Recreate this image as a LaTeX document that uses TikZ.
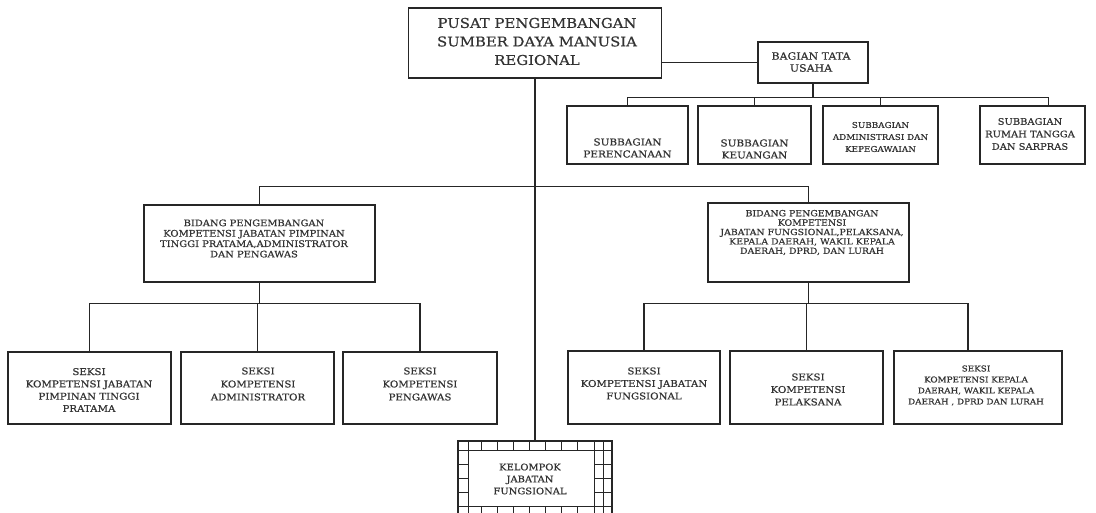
\documentclass[tikz,border=0pt]{standalone}
\usepackage{fontspec}
\setmainfont{DejaVu Serif}[FakeStretch=1.1,FakeBold=0.6]
\newcommand\setfs[2]{\fontsize{#1}{#2}\selectfont}
\begin{document}
\begin{tikzpicture}[x=1pt,y=-1pt,
  box/.style={draw=black!85, line width=1.3pt, inner sep=0pt, rectangle},
  conn/.style={draw=black!85, line width=1.3pt},
  brick/.style={draw=black!85, line width=1pt},
  txt/.style={align=center, inner sep=0pt, text=black!80}]
\useasboundingbox (0,0) rectangle (1096,513);
\clip (0,0) rectangle (1096,513);

% boxes
\node[box, minimum width=253, minimum height=70] (top) at (535,43) {};
\node[box, minimum width=110, minimum height=41] (bag) at (813,62.5) {};
\node[box, minimum width=121, minimum height=58] (sb1) at (627.5,135) {};
\node[box, minimum width=113, minimum height=58] (sb2) at (754.5,135) {};
\node[box, minimum width=115, minimum height=58] (sb3) at (880.5,135) {};
\node[box, minimum width=105, minimum height=58] (sb4) at (1032.5,135) {};
\node[box, minimum width=231, minimum height=77] (bidL) at (259.5,243.5) {};
\node[box, minimum width=201, minimum height=79] (bidR) at (808.5,242.5) {};
\node[box, minimum width=163, minimum height=72] (sL1) at (89.5,388) {};
\node[box, minimum width=153, minimum height=72] (sL2) at (257.5,388) {};
\node[box, minimum width=154, minimum height=72] (sL3) at (420,388) {};
\node[box, minimum width=152, minimum height=73] (sR1) at (644,387.5) {};
\node[box, minimum width=153, minimum height=73] (sR2) at (806.5,387.5) {};
\node[box, minimum width=168, minimum height=73] (sR3) at (978,387.5) {};
\node[box, minimum width=154, minimum height=84] (kel) at (535,483) {};

% brick border of kelompok
\draw[brick] (468,441) -- (468,525) (594,441) -- (594,525) (603,441) -- (603,525);
\draw[brick] (458,450) -- (612,450) (458,506) -- (612,506);
\foreach \x in {481,497,...,577} {
  \draw[brick] (\x,441) -- (\x,450);
  \draw[brick] (\x,506) -- (\x,525);
}
\foreach \y in {464,478,492} {
  \draw[brick] (458,\y) -- (468,\y);
  \draw[brick] (594,\y) -- (612,\y);
}

% texts
\node[txt, font=\setfs{13.5}{18.5}] (ttop) at (537,41.5) {PUSAT PENGEMBANGAN\\SUMBER DAYA MANUSIA\\REGIONAL};
\node[txt, font=\setfs{10}{12}] (tbag) at (811,62) {BAGIAN TATA\\USAHA};
\node[txt, font=\setfs{9.5}{12}] (tsb1) at (627.5,148) {SUBBAGIAN\\PERENCANAAN};
\node[txt, font=\setfs{9.5}{12}] (tsb2) at (754.5,149) {SUBBAGIAN\\KEUANGAN};
\node[txt, font=\setfs{8}{12}] (tsb3) at (880.5,137) {SUBBAGIAN\\ADMINISTRASI DAN\\KEPEGAWAIAN};
\node[txt, font=\setfs{9}{12.5}] (tsb4) at (1030,134) {SUBBAGIAN\\RUMAH TANGGA\\DAN SARPRAS};
\node[txt, font=\setfs{9}{10.4}] (tbidL) at (254,238.5) {BIDANG PENGEMBANGAN\\KOMPETENSI JABATAN PIMPINAN\\TINGGI PRATAMA,ADMINISTRATOR\\DAN PENGAWAS};
\node[txt, font=\setfs{8.5}{9.4}] (tbidR) at (812,232.5) {BIDANG PENGEMBANGAN\\KOMPETENSI\\JABATAN FUNGSIONAL,PELAKSANA,\\KEPALA DAERAH, WAKIL KEPALA\\DAERAH, DPRD, DAN LURAH};
\node[txt, font=\setfs{9.3}{12.3}] (tsL1) at (89,390) {SEKSI\\KOMPETENSI JABATAN\\PIMPINAN TINGGI\\PRATAMA};
\node[txt, font=\setfs{9.3}{13}] (tsL2) at (258,384) {SEKSI\\KOMPETENSI\\ADMINISTRATOR};
\node[txt, font=\setfs{9.3}{13}] (tsL3) at (420,384) {SEKSI\\KOMPETENSI\\PENGAWAS};
\node[txt, font=\setfs{9.3}{12.5}] (tsR1) at (644,383.5) {SEKSI\\KOMPETENSI JABATAN\\FUNGSIONAL};
\node[txt, font=\setfs{9.3}{12.5}] (tsR2) at (808,389.5) {SEKSI\\KOMPETENSI\\PELAKSANA};
\node[txt, font=\setfs{8}{11}] (tsR3) at (976,385.5) {SEKSI\\KOMPETENSI KEPALA\\DAERAH, WAKIL KEPALA\\DAERAH , DPRD DAN LURAH};
\node[txt, font=\setfs{9}{12}] (tkel) at (530,479) {KELOMPOK\\JABATAN\\FUNGSIONAL};

% connectors
\draw[conn] (top.south) -- (top.south |- kel.north);
\draw[conn] (bag.west) -- (bag.west -| top.east);
\draw[conn] (bag.south) -- ++(0,14) coordinate (js);
\draw[conn] (sb1.north) |- (js);
\draw[conn] ([xshift=16]sb4.north) |- (js);
\draw[conn] (sb2.north) -- (sb2.north |- js);
\draw[conn] (sb3.north) -- (sb3.north |- js);
\draw[conn] (bidL.north) -- ++(0,-18) -| (bidR.north);
\draw[conn] (bidL.south) -- ++(0,21) coordinate (jl);
\draw[conn] (sL1.north) |- (jl);
\draw[conn] (sL3.north) |- (jl);
\draw[conn] (sL2.north) -- (sL2.north |- jl);
\draw[conn] (bidR.south) -- ++(0,21) coordinate (jr);
\draw[conn] (sR1.north) |- (jr);
\draw[conn] ([xshift=-10]sR3.north) |- (jr);
\draw[conn] (sR2.north) -- (sR2.north |- jr);
\end{tikzpicture}
\end{document}
